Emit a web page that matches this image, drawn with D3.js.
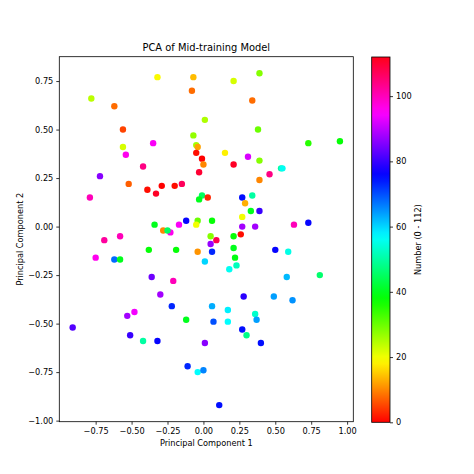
<!DOCTYPE html>
<html>
<head>
<meta charset="utf-8">
<script src="https://cdn.jsdelivr.net/npm/d3@7"></script>
<style>
  body { margin: 0; background: #fff; }
  text { font-family: "DejaVu Sans", sans-serif; fill: #000; }
  .tick text { font-size: 8.2px; }
  .domain, .tick line { stroke: #000; stroke-width: 0.8; }
</style>
</head>
<body>
<script>
// PCA coordinates and the number of each point
const pc1 = [
  -0.32, -0.78, -0.62, -0.56, -0.56, -0.35, -0.54, -0.42, -0.72, -0.52,
  -0.39, -0.33, -0.29, -0.79, -0.34, -0.28, -0.69, -0.58, -0.07, 0.21,
  0.39, -0.08, 0.34, 0.01, 0.38, -0.07, -0.05, -0.04, -0.05, -0.01,
  0.00, -0.03, 0.15, 0.31, 0.21, 0.39, 0.46, 0.39, -0.20, -0.15,
  -0.01, -0.03, 0.03, 0.27, 0.34, 0.29, 0.33, 0.39, 0.27, -0.12,
  -0.04, 0.06, -0.05, -0.17, -0.23, -0.25, 0.27, 0.36, 0.05, 0.21,
  0.26, 0.09, 0.05, 0.73, 0.95, 0.54, 0.55, 0.63, 0.73, -0.38,
  -0.75, -0.62, -0.58, -0.36, -0.30, -0.53, -0.48, -0.91, -0.51, -0.42,
  -0.32, -0.19, -0.04, 0.06, 0.21, 0.01, 0.22, 0.18, 0.23, -0.21,
  -0.22, 0.28, 0.06, 0.17, 0.36, 0.37, -0.12, 0.07, 0.17, 0.27,
  0.30, 0.40, 0.01, -0.11, -0.04, 0.00, 0.11, 0.50, 0.59, 0.58,
  0.81, 0.49, 0.62
];
const pc2 = [
  0.77, 0.66, 0.62, 0.50, 0.41, 0.43, 0.37, 0.31, 0.26, 0.22,
  0.19, 0.17, 0.21, 0.15, 0.01, -0.02, -0.07, -0.05, 0.77, 0.75,
  0.79, 0.70, 0.65, 0.55, 0.50, 0.47, 0.42, 0.41, 0.38, 0.35,
  0.32, 0.28, 0.38, 0.36, 0.32, 0.34, 0.27, 0.24, 0.21, 0.22,
  0.16, 0.14, 0.15, 0.15, 0.16, 0.12, 0.08, 0.08, 0.05, 0.03,
  0.03, 0.03, 0.01, 0.01, -0.03, -0.02, 0.00, 0.00, -0.05, -0.05,
  -0.04, -0.07, -0.09, 0.43, 0.44, 0.30, 0.30, 0.01, 0.02, -0.12,
  -0.16, -0.17, -0.17, -0.26, -0.35, -0.46, -0.44, -0.52, -0.56, -0.59,
  -0.59, -0.12, -0.13, -0.13, -0.11, -0.18, -0.16, -0.22, -0.20, -0.28,
  -0.41, -0.36, -0.41, -0.43, -0.45, -0.48, -0.48, -0.49, -0.49, -0.53,
  -0.56, -0.60, -0.60, -0.72, -0.75, -0.74, -0.92, -0.12, -0.13, -0.26,
  -0.25, -0.36, -0.38
];
const numbers = [
  19, 24, 8, 5, 22, 95, 96, 104, 86, 7,
  1, 111, 0, 100, 40, 10, 102, 100, 14, 22,
  28, 8, 8, 25, 30, 27, 26, 12, 1, 0,
  10, 110, 18, 92, 111, 28, 104, 10, 1, 107,
  45, 40, 3, 75, 50, 13, 40, 80, 20, 76,
  30, 38, 20, 95, 96, 45, 88, 88, 28, 38,
  1, 108, 87, 35, 38, 50, 56, 100, 76, 38,
  96, 68, 40, 84, 88, 88, 94, 82, 80, 50,
  76, 38, 11, 73, 40, 60, 39, 56, 52, 100,
  73, 79, 63, 58, 53, 64, 40, 70, 57, 75,
  48, 75, 86, 73, 57, 66, 75, 76, 55, 62,
  46, 64, 65
];

const xTicks = [-0.75, -0.5, -0.25, 0, 0.25, 0.5, 0.75, 1.0];
const yTicks = [-1.0, -0.75, -0.5, -0.25, 0, 0.25, 0.5, 0.75];
const cbTicks = [0, 20, 40, 60, 80, 100];
const numMax = 112;

const points = pc1.map((x, i) => ({ x: x, y: pc2[i], n: numbers[i] }));

// matplotlib "hsv" colormap segments
const hsvStops = [0, 0.15873, 0.174603, 0.333333, 0.349206, 0.507937, 0.666667, 0.68254, 0.84127, 0.857143, 1];
const hsvR = [1, 1, 0.96875, 0.03125, 0, 0, 0, 0.03125, 0.96875, 1, 1];
const hsvG = [0, 0.9375, 1, 1, 1, 1, 0.0625, 0, 0, 0, 0];
const hsvB = [0, 0, 0, 0, 0.0625, 1, 1, 1, 1, 0.9375, 0.09375];
const rS = d3.scaleLinear().domain(hsvStops).range(hsvR);
const gS = d3.scaleLinear().domain(hsvStops).range(hsvG);
const bS = d3.scaleLinear().domain(hsvStops).range(hsvB);
const hsv = t => d3.rgb(rS(t) * 255, gS(t) * 255, bS(t) * 255).formatHex();
const color = d3.scaleLinear().domain([0, numMax]).range([0, 1]);

const W = 474, H = 474;
const plot = { left: 59.3, right: 353.3, top: 56.7, bottom: 421.7 };
const cb = { left: 371.7, right: 390, top: 57, bottom: 422.3 };

const svg = d3.select("body").append("svg")
  .attr("width", W)
  .attr("height", H);

// domains with 5% padding, like matplotlib
function padded(ext) {
  const m = (ext[1] - ext[0]) * 0.05;
  return [ext[0] - m, ext[1] + m];
}
const xScale = d3.scaleLinear()
  .domain(padded(d3.extent(pc1)))
  .range([plot.left, plot.right]);
const yScale = d3.scaleLinear()
  .domain(padded(d3.extent(pc2)))
  .range([plot.bottom, plot.top]);

const fmt = d => d3.format(".2f")(d).replace("-", "\u2212");

// points
svg.append("g")
  .selectAll("circle")
  .data(points)
  .join("circle")
  .attr("cx", d => xScale(d.x))
  .attr("cy", d => yScale(d.y))
  .attr("r", 3.2)
  .attr("fill", d => hsv(color(d.n)));

// frame
svg.append("rect")
  .attr("x", plot.left)
  .attr("y", plot.top)
  .attr("width", plot.right - plot.left)
  .attr("height", plot.bottom - plot.top)
  .attr("fill", "none")
  .attr("stroke", "#000")
  .attr("stroke-width", 0.8);

// axes
svg.append("g")
  .attr("transform", `translate(0,${plot.bottom})`)
  .call(d3.axisBottom(xScale).tickValues(xTicks).tickFormat(fmt).tickSize(3).tickPadding(3))
  .call(g => g.select(".domain").remove());

svg.append("g")
  .attr("transform", `translate(${plot.left},0)`)
  .call(d3.axisLeft(yScale).tickValues(yTicks).tickFormat(fmt).tickSize(3).tickPadding(3))
  .call(g => g.select(".domain").remove());

// titles
svg.append("text")
  .attr("x", (plot.left + plot.right) / 2)
  .attr("y", 51)
  .attr("text-anchor", "middle")
  .style("font-size", "9.9px")
  .text("PCA of Mid-training Model");

svg.append("text")
  .attr("x", (plot.left + plot.right) / 2)
  .attr("y", 446)
  .attr("text-anchor", "middle")
  .style("font-size", "8.2px")
  .text("Principal Component 1");

svg.append("text")
  .attr("transform", `translate(23,${(plot.top + plot.bottom) / 2}) rotate(-90)`)
  .attr("text-anchor", "middle")
  .style("font-size", "8.2px")
  .text("Principal Component 2");

// colorbar
const defs = svg.append("defs");
const grad = defs.append("linearGradient")
  .attr("id", "cbgrad")
  .attr("x1", 0).attr("y1", 1)
  .attr("x2", 0).attr("y2", 0);
grad.selectAll("stop")
  .data(d3.range(0, 1.0001, 0.02))
  .join("stop")
  .attr("offset", d => d)
  .attr("stop-color", d => hsv(d));

svg.append("rect")
  .attr("x", cb.left)
  .attr("y", cb.top)
  .attr("width", cb.right - cb.left)
  .attr("height", cb.bottom - cb.top)
  .attr("fill", "url(#cbgrad)")
  .attr("stroke", "#000")
  .attr("stroke-width", 0.8);

const cbScale = d3.scaleLinear()
  .domain([0, numMax])
  .range([cb.bottom, cb.top]);

svg.append("g")
  .attr("transform", `translate(${cb.right},0)`)
  .call(d3.axisRight(cbScale).tickValues(cbTicks).tickSize(3).tickPadding(3))
  .call(g => g.select(".domain").remove());

svg.append("text")
  .attr("transform", `translate(421,${(cb.top + cb.bottom) / 2}) rotate(-90)`)
  .attr("text-anchor", "middle")
  .style("font-size", "8.2px")
  .text("Number (0 - 112)");
</script>
</body>
</html>
